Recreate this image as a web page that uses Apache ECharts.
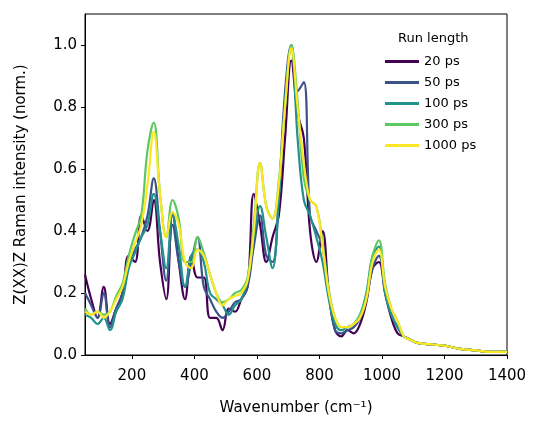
<!DOCTYPE html><html><head><meta charset="utf-8">
<script src="https://cdn.jsdelivr.net/npm/echarts@6/dist/echarts.min.js"></script>
<style>body{margin:0}#c{width:546px;height:434px}</style></head><body><div id="c"></div><script>
const wavenumbers=[50,70,90,110,130,150,170,190,210,230,250,270,290,310,330,350,370,390,410,430,450,470,490,510,530,550,570,590,610,630,650,670,690,710,730,750,770,790,810,830,850,870,890,910,930,950,970,990,1010,1030,1050,1070,1090,1110,1150,1200,1250,1300,1350,1400];
const xTicks=[200,400,600,800,1000,1200,1400];
const yTicks=[0,0.2,0.4,0.6,0.8,1.0];
const tail=[0.06,0.05,0.04,0.035,0.03,0.02,0.015,0.01,0.01];
const s20=[0.26,0.18,0.12,0.22,0.10,0.15,0.20,0.32,0.30,0.45,0.40,0.50,0.30,0.18,0.46,0.30,0.18,0.32,0.25,0.25,0.12,0.12,0.08,0.15,0.14,0.18,0.22,0.52,0.42,0.30,0.38,0.45,0.70,0.95,0.78,0.70,0.40,0.30,0.40,0.20,0.08,0.06,0.08,0.07,0.10,0.17,0.28,0.30,0.20,0.12,0.07].concat(tail);
const s50=[0.20,0.16,0.12,0.20,0.09,0.15,0.20,0.30,0.34,0.38,0.45,0.57,0.40,0.24,0.42,0.30,0.22,0.30,0.38,0.22,0.18,0.14,0.12,0.14,0.17,0.18,0.22,0.35,0.45,0.32,0.30,0.52,0.85,1.0,0.85,0.88,0.45,0.40,0.35,0.20,0.08,0.07,0.08,0.09,0.12,0.18,0.28,0.32,0.22,0.13,0.09].concat(tail);
const s100=[0.13,0.12,0.10,0.12,0.08,0.14,0.18,0.28,0.33,0.38,0.42,0.52,0.40,0.28,0.45,0.35,0.22,0.32,0.34,0.30,0.20,0.18,0.16,0.13,0.16,0.18,0.24,0.38,0.48,0.38,0.28,0.50,0.82,1.0,0.70,0.50,0.45,0.38,0.30,0.18,0.10,0.08,0.09,0.10,0.13,0.20,0.32,0.35,0.20,0.13,0.09].concat(tail);
const s300=[0.15,0.13,0.14,0.13,0.14,0.19,0.23,0.32,0.39,0.45,0.66,0.75,0.52,0.38,0.50,0.44,0.30,0.30,0.38,0.33,0.26,0.20,0.17,0.18,0.20,0.21,0.25,0.42,0.62,0.48,0.44,0.56,0.80,1.0,0.82,0.57,0.50,0.48,0.36,0.21,0.12,0.09,0.09,0.10,0.13,0.19,0.32,0.37,0.23,0.15,0.11].concat(tail);
const s1000=[0.14,0.13,0.14,0.12,0.14,0.18,0.22,0.30,0.36,0.42,0.55,0.72,0.52,0.38,0.46,0.42,0.30,0.28,0.34,0.32,0.26,0.20,0.16,0.18,0.19,0.20,0.24,0.40,0.62,0.48,0.44,0.55,0.80,0.99,0.80,0.62,0.50,0.48,0.35,0.20,0.12,0.09,0.09,0.10,0.12,0.18,0.30,0.34,0.22,0.15,0.11].concat(tail);
const names=['20 ps','50 ps','100 ps','300 ps','1000 ps'];
const colors=['#440154','#3b528b','#21918c','#5ec962','#fde725'];
const all=[s20,s50,s100,s300,s1000];
const f='DejaVu Sans';
const ch=echarts.init(document.getElementById('c'));
ch.setOption({animation:false,textStyle:{fontFamily:f},
grid:{left:85,right:39,top:14,bottom:79},
title:{text:'Run length',left:393,top:27,textStyle:{fontSize:13,fontWeight:'normal',color:'#000',fontFamily:f}},
legend:{orient:'vertical',left:380,top:50,itemWidth:34,itemHeight:3,itemGap:8,icon:'rect',textStyle:{fontSize:13,color:'#000',fontFamily:f},data:names},
xAxis:{type:'value',min:50,max:1400,name:'Wavenumber (cm⁻¹)',nameLocation:'middle',nameGap:46,nameTextStyle:{fontSize:15,color:'#000'},
 axisLine:{onZero:false,lineStyle:{color:'#000'}},axisTick:{show:true,length:4,lineStyle:{color:'#000'},customValues:xTicks},splitLine:{show:false},
 axisLabel:{fontSize:15,color:'#000',customValues:xTicks,margin:14,formatter:v=>String(v)}},
yAxis:{type:'value',min:0,max:1.1,name:'Z(XX)Z Raman intensity (norm.)',nameLocation:'middle',nameGap:56,nameTextStyle:{fontSize:15,color:'#000'},
 axisLine:{show:true,lineStyle:{color:'#000'}},axisTick:{show:true,length:4,lineStyle:{color:'#000'},customValues:yTicks},splitLine:{show:false},
 axisLabel:{fontSize:15,color:'#000',customValues:yTicks,formatter:v=>v.toFixed(1)}},
series:all.map((d,i)=>({name:names[i],type:'line',smooth:0.4,showSymbol:false,color:colors[i],lineStyle:{width:2.2},
 data:d.map((y,j)=>[wavenumbers[j],y])})),
graphic:[{type:'rect',shape:{x:85,y:14,width:422,height:341},style:{fill:'none',stroke:'#000',lineWidth:1},silent:true}]
});
</script></body></html>
